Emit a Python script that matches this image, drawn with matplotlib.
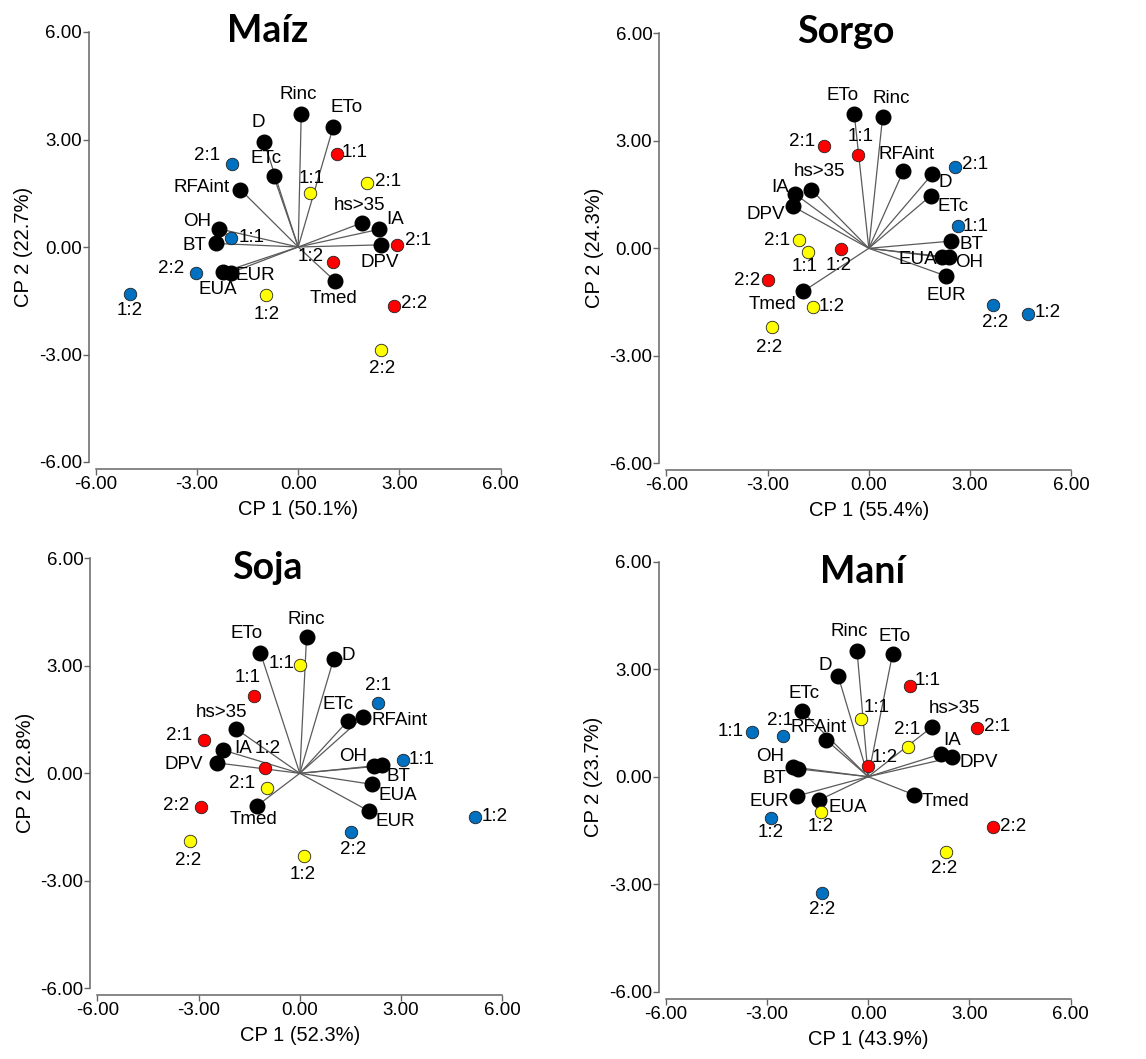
import matplotlib.pyplot as plt

plt.rcParams["font.family"] = ["Liberation Sans", "DejaVu Sans"]

# variable names (black points, vectors from origin)
variables = ["Rinc", "ETo", "D", "ETc", "RFAint", "OH", "BT", "EUA", "EUR",
             "hs>35", "IA", "DPV", "Tmed"]
treatments = ["1:1", "2:1", "1:2", "2:2"]

# ---- Maíz ----
maiz_var_x = [0.09, 1.04, -1.01, -0.73, -1.71, -2.36, -2.45, -2.23, -2.00, 1.88, 2.38, 2.46, 1.09]
maiz_var_y = [3.72, 3.36, 2.93, 1.99, 1.60, 0.51, 0.10, -0.70, -0.72, 0.67, 0.49, 0.06, -0.95]
maiz_blue_x = [-2.00, -1.95, -4.98, -3.02]
maiz_blue_y = [0.24, 2.32, -1.30, -0.72]
maiz_red_x = [1.14, 2.92, 1.02, 2.83]
maiz_red_y = [2.59, 0.06, -0.41, -1.64]
maiz_yel_x = [0.34, 2.04, -0.96, 2.44]
maiz_yel_y = [1.50, 1.78, -1.35, -2.88]

# ---- Sorgo ----
sorgo_var_x = [0.41, -0.43, 1.88, 1.84, 1.02, 2.38, 2.43, 2.16, 2.28, -1.70, -2.19, -2.25, -1.94]
sorgo_var_y = [3.67, 3.74, 2.07, 1.47, 2.15, -0.25, 0.20, -0.25, -0.77, 1.63, 1.52, 1.17, -1.20]
sorgo_blue_x = [2.64, 2.54, 4.72, 3.69]
sorgo_blue_y = [0.63, 2.26, -1.82, -1.59]
sorgo_red_x = [-0.31, -1.34, -0.82, -3.00]
sorgo_red_y = [2.61, 2.86, -0.01, -0.88]
sorgo_yel_x = [-1.81, -2.07, -1.66, -2.88]
sorgo_yel_y = [-0.10, 0.22, -1.65, -2.20]

# ---- Soja ----
soja_var_x = [0.20, -1.17, 1.00, 1.42, 1.88, 2.21, 2.45, 2.15, 2.04, -1.89, -2.28, -2.45, -1.27]
soja_var_y = [3.80, 3.37, 3.18, 1.46, 1.58, 0.19, 0.23, -0.31, -1.05, 1.24, 0.65, 0.29, -0.91]
soja_blue_x = [3.05, 2.31, 5.20, 1.52]
soja_blue_y = [0.37, 1.95, -1.21, -1.65]
soja_red_x = [-1.37, -2.83, -1.02, -2.93]
soja_red_y = [2.17, 0.94, 0.15, -0.93]
soja_yel_x = [0.02, -0.97, 0.12, -3.24]
soja_yel_y = [3.02, -0.41, -2.31, -1.89]

# ---- Maní ----
mani_var_x = [-0.33, 0.72, -0.89, -1.96, -1.25, -2.24, -2.09, -1.45, -2.12, 1.88, 2.15, 2.49, 1.37]
mani_var_y = [3.50, 3.42, 2.81, 1.82, 1.03, 0.27, 0.22, -0.65, -0.54, 1.38, 0.63, 0.54, -0.51]
mani_blue_x = [-3.45, -2.52, -2.89, -1.37]
mani_blue_y = [1.25, 1.13, -1.14, -3.25]
mani_red_x = [1.23, 3.22, 0.00, 3.70]
mani_red_y = [2.52, 1.37, 0.29, -1.40]
mani_yel_x = [-0.20, 1.18, -1.40, 2.31]
mani_yel_y = [1.62, 0.84, -0.98, -2.10]

# label offsets in pixels (dx, dy), same order as variables / treatments
maiz_off = {
    "var": [(-3, 19), (13, 19), (-6, 20), (-8, 17), (-39, 2), (-21, 7), (-21, -2),
            (-5, -17), (25, -3), (-2, 17), (17, 10), (-1, -18), (-1, -17)],
    "blue": [(21, 1), (-25, 8), (0, -17), (-25, 4)],
    "red": [(18, 2), (21, 4), (-22, 5), (20, 2)],
    "yel": [(2, 15), (21, 2), (1, -19), (2, -18)],
}
sorgo_off = {
    "var": [(9, 18), (-12, 19), (13, -8), (22, -11), (3, 17), (20, -5), (21, -3),
            (-24, -2), (1, -20), (8, 18), (-15, 6), (-27, -8), (-31, -13)],
    "blue": [(18, -1), (21, 3), (20, 1), (2, -17)],
    "red": [(2, 18), (-22, 4), (-2, -17), (-20, -1)],
    "yel": [(-3, -15), (-22, 0), (19, 1), (-2, -20)],
}
soja_off = {
    "var": [(0, 18), (-14, 19), (15, 4), (-10, 16), (36, -4), (-21, 10), (16, -11),
            (25, -11), (27, -11), (-15, 16), (20, 2), (-33, -2), (-3, -14)],
    "blue": [(19, 1), (0, 18), (19, 0), (2, -17)],
    "red": [(-6, 18), (-25, 4), (2, 19), (-25, 1)],
    "yel": [(-19, 2), (-25, 4), (-1, -18), (-2, -19)],
}
mani_off = {
    "var": [(-8, 20), (2, 18), (-13, 11), (2, 18), (-7, 12), (-22, 11), (-23, -10),
            (29, -8), (-27, -5), (23, 19), (11, 14), (27, -5), (31, -7)],
    "blue": [(-21, 0), (-3, 16), (0, -15), (0, -16)],
    "red": [(18, 6), (20, 1), (16, 9), (20, 0)],
    "yel": [(15, 11), (-1, 17), (0, -15), (-2, -17)],
}

panels = [
    ("Maíz", "CP 1 (50.1%)", "CP 2 (22.7%)", maiz_var_x, maiz_var_y,
     maiz_blue_x, maiz_blue_y, maiz_red_x, maiz_red_y, maiz_yel_x, maiz_yel_y, maiz_off),
    ("Sorgo", "CP 1 (55.4%)", "CP 2 (24.3%)", sorgo_var_x, sorgo_var_y,
     sorgo_blue_x, sorgo_blue_y, sorgo_red_x, sorgo_red_y, sorgo_yel_x, sorgo_yel_y, sorgo_off),
    ("Soja", "CP 1 (52.3%)", "CP 2 (22.8%)", soja_var_x, soja_var_y,
     soja_blue_x, soja_blue_y, soja_red_x, soja_red_y, soja_yel_x, soja_yel_y, soja_off),
    ("Maní", "CP 1 (43.9%)", "CP 2 (23.7%)", mani_var_x, mani_var_y,
     mani_blue_x, mani_blue_y, mani_red_x, mani_red_y, mani_yel_x, mani_yel_y, mani_off),
]

# axes rectangles (fig fraction) and title placement (axes fraction)
W, H = 1146, 1059
rects = [(95.7, 462.0), (666.3, 463.3), (97.3, 988.3), (665.7, 991.7)]
title_pos = [(0.425, 0.977), (0.443, 0.977), (0.419, 0.951), (0.486, 0.950)]

fig = plt.figure(figsize=(W / 100, H / 100), dpi=100)

for i, (title, xl, yl, vx, vy, bx, by, rx, ry, yx, yy, off) in enumerate(panels):
    left, bottom = rects[i]
    ax = fig.add_axes([left / W, 1 - bottom / H, 405 / W, 430 / H])
    ax.set_xlim(-6, 6)
    ax.set_ylim(-6, 6)

    for x, y in zip(vx, vy):
        ax.plot([0, x], [0, y], color="#5a5a5a", lw=0.9, zorder=1)
    ax.plot(vx, vy, "o", ms=10.5, color="black", mec="black", zorder=3)
    ax.plot(bx, by, "o", ms=9, color="#0070C0", mec="#222222", mew=0.6, zorder=4)
    ax.plot(rx, ry, "o", ms=9, color="#FF0000", mec="#222222", mew=0.6, zorder=4)
    ax.plot(yx, yy, "o", ms=9, color="#FFFF00", mec="#222222", mew=0.6, zorder=4)

    groups = [(variables, vx, vy, off["var"]),
              (treatments, bx, by, off["blue"]),
              (treatments, rx, ry, off["red"]),
              (treatments, yx, yy, off["yel"])]
    for names, xs, ys, offs in groups:
        for name, x, y, (dx, dy) in zip(names, xs, ys, offs):
            ax.annotate(name, (x, y), xytext=(dx, dy), textcoords="offset pixels",
                        ha="center", va="center", fontsize=13.5, zorder=5)

    ax.text(title_pos[i][0], title_pos[i][1], title, transform=ax.transAxes,
            ha="center", va="baseline", fontsize=27, fontweight="bold",
            family=["Lato", "DejaVu Sans"])

    ax.set_xticks([-6, -3, 0, 3, 6])
    ax.set_yticks([-6, -3, 0, 3, 6])
    ax.set_xticklabels(["%.2f" % t for t in ax.get_xticks()])
    ax.set_yticklabels(["%.2f" % t for t in ax.get_yticks()])
    ax.tick_params(labelsize=13.5, length=4, width=1, color="#666666", pad=1)
    ax.set_xlabel(xl, fontsize=14.5, labelpad=5)
    ax.set_ylabel(yl, fontsize=14.5, labelpad=4)

    for s in ["top", "right"]:
        ax.spines[s].set_visible(False)
    for s in ["left", "bottom"]:
        ax.spines[s].set_position(("outward", 5))
        ax.spines[s].set_color("#666666")
        ax.spines[s].set_linewidth(1.1)

fig.savefig("out.png", dpi=100)
